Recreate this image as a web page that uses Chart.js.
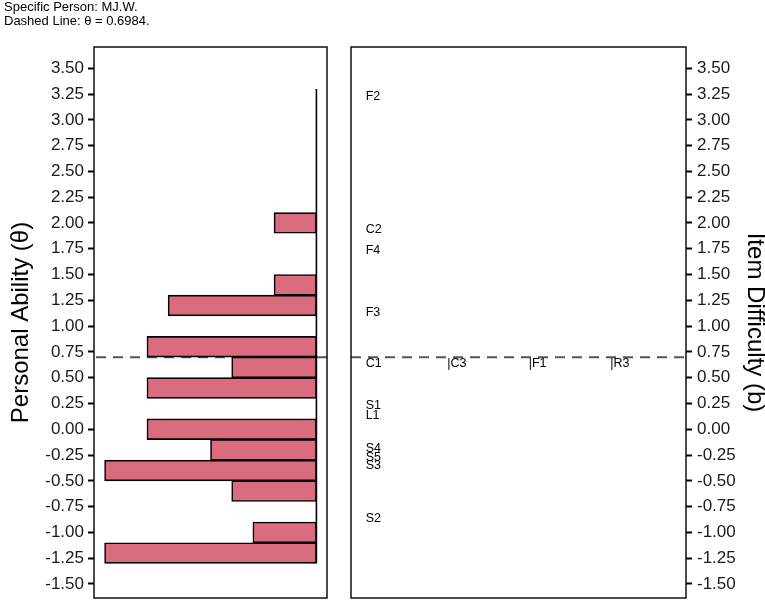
<!DOCTYPE html>
<html><head><meta charset="utf-8">
<script src="https://cdn.jsdelivr.net/npm/chart.js@4"></script>
<style>
html,body{margin:0;padding:0;background:#fff;overflow:hidden;width:765px;height:603px;}
#hdr{position:absolute;left:4px;top:0;font:13px 'Liberation Sans',Arial,sans-serif;line-height:14.4px;color:#000;}
#c1{position:absolute;left:0;top:0;}
#c2{position:absolute;left:340px;top:0;}
</style></head><body>
<canvas id="c1" width="340" height="603"></canvas>
<canvas id="c2" width="425" height="603"></canvas>
<div id="hdr">Specific Person: MJ.W.<br>Dashed Line: θ = 0.6984.</div>
<script>
// ---- data ----
const binCenters   = [-1.2,-1.0,-0.8,-0.6,-0.4,-0.2,0.0,0.2,0.4,0.6,0.8,1.0,1.2,1.4,1.6,1.8,2.0,2.2,2.4,2.6,2.8,3.0,3.2];
const personCounts = [10,3,0,4,10,5,8,0,8,4,8,0,7,2,0,0,2,0,0,0,0,0,0];
const histLow = -1.3, histHigh = 3.3;
const itemLabels     = ['F2','C2','F4','F3','C1','|C3','|F1','|R3','S1','L1','S4','S5','S3','S2'];
const itemDifficulty = [3.225,1.933,1.733,1.129,0.641,0.641,0.641,0.641,0.228,0.134,-0.187,-0.271,-0.356,-0.861];
const itemColumn     = [1,1,1,1,1,2,3,4,1,1,1,1,1,1];
const theta = 0.6984;
const yMin = -1.636, yMax = 3.706, yStep = 0.25;
const countMin = -0.5, countMax = 10.5;
const colMin = 0.82, colMax = 4.93;

const FONT = "'Liberation Sans', Arial, sans-serif";
const boxPlugin = {
  id: 'box',
  afterDraw(chart) {
    const {left, top, right, bottom} = chart.chartArea;
    const ctx = chart.ctx;
    ctx.save();
    ctx.strokeStyle = '#000';
    ctx.lineWidth = 1.4;
    ctx.strokeRect(left, top, right - left, bottom - top);
    ctx.restore();
  }
};
const itemLabelPlugin = {
  id: 'itemLabels',
  afterDatasetsDraw(chart) {
    const meta = chart.getDatasetMeta(0);
    const ctx = chart.ctx;
    ctx.save();
    ctx.font = "12.5px " + FONT;
    ctx.fillStyle = '#000';
    ctx.textAlign = 'left';
    ctx.textBaseline = 'middle';
    meta.data.forEach((pt, i) => ctx.fillText(itemLabels[i], pt.x, pt.y));
    ctx.restore();
  }
};
const tickOpts = (pad) => ({
  stepSize: yStep, includeBounds: false, autoSkip: false, maxTicksLimit: 100,
  padding: pad, color: '#1a1a1a', font: {family: FONT, size: 17},
  callback: v => Number(v).toFixed(2)
});
const gridOpts = {display: true, offset: false, drawOnChartArea: false, drawTicks: true, tickLength: 6, tickWidth: 2, tickColor: '#000'};
const fixAxis = (w) => (s) => { s.width = w; s.paddingTop = 0; s.paddingBottom = 0; };

// ---- left: person histogram ----
new Chart(document.getElementById('c1'), {
  type: 'bar',
  data: {
    datasets: [
      {
        label: 'Persons',
        data: binCenters.map((c, i) => ({x: personCounts[i], y: c})),
        backgroundColor: '#DB6B7E', borderColor: '#000', borderWidth: 1.6, borderSkipped: false,
        barPercentage: 1, categoryPercentage: 1
      },
      {
        type: 'line', label: 'axis',
        data: [{x: 0, y: histLow}, {x: 0, y: histHigh}],
        borderColor: '#000', borderWidth: 1.6, pointRadius: 0, fill: false
      },
      {
        type: 'line', label: 'theta',
        data: [{x: countMin, y: theta}, {x: countMax, y: theta}],
        borderColor: '#555', borderWidth: 2, borderDash: [10, 7], pointRadius: 0, fill: false
      }
    ]
  },
  options: {
    indexAxis: 'y', responsive: false, animation: false,
    layout: {padding: {left: 0, right: 13, top: 47, bottom: 5}},
    plugins: {legend: {display: false}, tooltip: {enabled: false}},
    scales: {
      x: {type: 'linear', reverse: true, min: countMin, max: countMax, display: false, offset: false},
      y: {
        type: 'linear', position: 'left', min: yMin, max: yMax, offset: false,
        ticks: tickOpts(4), grid: gridOpts, border: {display: false},
        title: {display: true, text: 'Personal Ability (θ)', color: '#000',
                font: {family: FONT, size: 24, lineHeight: 1.2}, padding: {top: 7, bottom: 0}},
        afterFit: fixAxis(94)
      }
    }
  },
  plugins: [boxPlugin]
});

// ---- right: item difficulties ----
new Chart(document.getElementById('c2'), {
  type: 'scatter',
  data: {
    datasets: [
      {
        label: 'Items',
        data: itemLabels.map((l, i) => ({x: itemColumn[i], y: itemDifficulty[i]})),
        pointRadius: 0, pointHoverRadius: 0
      },
      {
        type: 'line', label: 'theta',
        data: [{x: colMin, y: theta}, {x: colMax, y: theta}],
        borderColor: '#555', borderWidth: 2, borderDash: [10, 7], pointRadius: 0, fill: false
      }
    ]
  },
  options: {
    responsive: false, animation: false,
    layout: {padding: {left: 11, right: 0, top: 47, bottom: 5}},
    plugins: {legend: {display: false}, tooltip: {enabled: false}},
    scales: {
      x: {type: 'linear', min: colMin, max: colMax, display: false},
      y: {
        type: 'linear', position: 'right', min: yMin, max: yMax,
        ticks: tickOpts(5), grid: gridOpts, border: {display: false},
        title: {display: true, text: 'Item Difficulty (b)', color: '#000',
                font: {family: FONT, size: 24, lineHeight: 0.8}, padding: {top: 0.4, bottom: 0}},
        afterFit: fixAxis(79)
      }
    }
  },
  plugins: [boxPlugin, itemLabelPlugin]
});
</script>
</body></html>
